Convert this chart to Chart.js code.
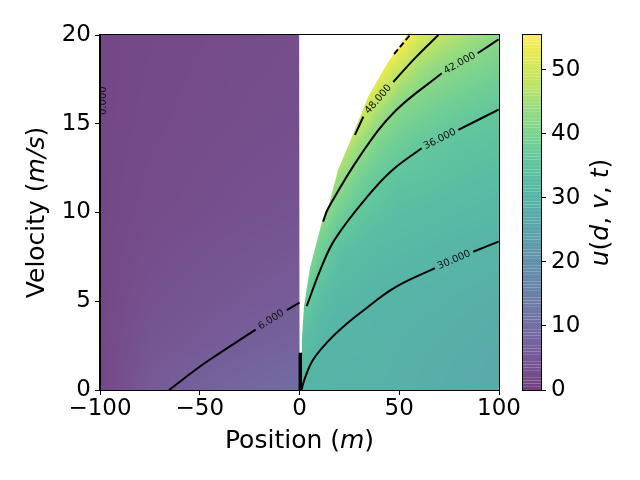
<!DOCTYPE html>
<html><head><meta charset="utf-8">
<script src="https://cdn.jsdelivr.net/npm/chart.js@4.4.0/dist/chart.umd.min.js"></script>
<style>
html,body{margin:0;padding:0;background:#fff;}
#wrap{position:relative;width:640px;height:480px;}
canvas{position:absolute;left:0;top:0;}
</style></head><body>
<div id="wrap"><canvas id="main" width="640" height="480"></canvas><canvas id="cbar" width="640" height="480"></canvas></div>
<script>
// ---------- data ----------
const xTicks = [-100, -50, 0, 50, 100];
const yTicks = [0, 5, 10, 15, 20];
const cbTicks = [0, 10, 20, 30, 40, 50];
const cbRange = [0, 55.4];

// field u(d,v) for d<0 (rows: v, cols: d)
const leftD = [-100, -75, -50, -25, 0];
const leftV = [0, 2.5, 5, 10, 15, 20];
const leftU = [
  [1.5, 5.3, 7.2, 8.6, 10.0],
  [1.5, 4.3, 5.3, 6.6, 7.6],
  [1.5, 3.5, 4.4, 5.2, 5.95],
  [1.5, 2.4, 3.0, 3.5, 3.9],
  [1.5, 2.0, 2.4, 2.8, 3.1],
  [1.5, 1.8, 2.1, 2.4, 2.7]
];
// field u(d,v) for d>=0 (rows: v, cols: d)
const rightD = [0, 5, 10, 20, 30, 40, 50, 60, 70, 80, 90, 100];
const rightV = [0, 2, 4, 6, 8, 10, 12, 14, 16, 18, 20];
const rightU = [
  [30.2, 29.85, 29.8, 29.6, 29.4, 29.2, 28.8, 28.4, 28.0, 27.6, 27.3, 27.0],
  [32.6, 31.5, 29.95, 29.75, 29.7, 29.4, 29.0, 28.7, 28.3, 27.9, 27.6, 27.2],
  [35.2, 34.5, 32.0, 30.3, 29.95, 29.6, 29.4, 29.2, 28.9, 28.5, 28.2, 27.8],
  [37.8, 38.0, 35.0, 32.0, 31.3, 30.4, 30.1, 29.8, 29.5, 29.3, 29.1, 28.7],
  [40.3, 42.5, 39.0, 34.2, 33.2, 32.2, 31.6, 31.2, 30.6, 30.4, 30.0, 29.8],
  [42.8, 47.0, 44.0, 38.6, 35.6, 34.4, 33.2, 32.9, 32.4, 32.0, 31.6, 31.2],
  [45.3, 51.0, 50.0, 44.0, 39.2, 36.6, 35.0, 34.8, 34.2, 33.6, 33.2, 32.8],
  [47.9, 55.0, 56.0, 50.0, 45.0, 40.3, 38.0, 36.6, 35.9, 35.1, 34.8, 34.5],
  [50.4, 59.0, 62.0, 57.0, 52.0, 46.2, 41.7, 40.2, 38.8, 37.8, 36.8, 36.2],
  [53.0, 63.0, 68.0, 64.0, 60.0, 54.0, 48.5, 44.5, 42.4, 41.2, 40.2, 39.0],
  [55.5, 67.0, 74.0, 72.0, 68.0, 62.0, 57.0, 51.0, 48.0, 46.0, 44.0, 42.1]
];
// undefined (white) region edge
const whiteEdge = [[0,0],[1.0,0],[1.1,1.5],[1.25,2.8],[2.25,4.7],[5.3,6.9],[11.3,9.5],[14.3,10.25],[19.3,12.4],[26.8,14.4],[34.3,16.5],[43.9,18.4],[53.9,20]];
// crowded contours at the jump d = 0
const jumpBar = [[0.4,0],[0.4,2.1]];
// contour lines (split where the inline label sits)
const c6a  = [[-65.4,0],[-47.4,1.52],[-22.0,3.4]];
const c6b  = [[-6.4,4.5],[0,4.92]];
const c30a = [[1.0,0],[2.5,0.6],[6.5,1.65],[14.4,2.75],[22.8,3.65],[31.2,4.41],[47.9,5.78],[67.9,6.87]];
const c30b = [[87.1,7.79],[99.8,8.36]];
const c36a = [[3.6,4.73],[11.1,6.95],[17.8,8.5],[33.7,10.85],[46.2,12.35],[61.2,13.62]];
const c36b = [[79.6,14.65],[99.8,15.8]];
const c42a = [[11.8,9.48],[14.4,10.24],[31.2,13.33],[47.9,15.7],[71.3,17.84]];
const c42b = [[89.3,18.97],[99.8,19.75]];
const c48a = [[27.8,14.37],[32,15.4]];
const c48b = [[47,17.35],[57.9,18.7],[69.6,20]];
const c54  = [[47.4,18.93],[55.4,20]];
const contourLabels = [
  ['6.000', c6a, c6b], ['30.000', c30a, c30b], ['36.000', c36a, c36b],
  ['42.000', c42a, c42b], ['48.000', c48a, c48b]
];
const edgeLabel = ['0.000', [-98.5, 16.3]];

// ---------- helpers ----------
const VIR = [[68,1,84],[71,19,101],[72,36,117],[70,51,127],[65,68,135],[59,82,139],[53,95,141],[48,106,142],[42,120,142],[37,132,142],[33,145,140],[31,158,137],[34,168,132],[47,180,124],[68,191,112],[94,201,98],[122,209,81],[162,218,55],[189,223,38],[223,227,24],[253,231,37]];
const ALPHA = 0.75;
function colorFor(u) {
  let t = (u - cbRange[0]) / (cbRange[1] - cbRange[0]);
  t = Math.max(0, Math.min(1, t));
  const f = t * (VIR.length - 1), i = Math.min(VIR.length - 2, Math.floor(f)), r = f - i;
  const c = [0,1,2].map(k => VIR[i][k] + (VIR[i+1][k] - VIR[i][k]) * r);
  return c.map(x => Math.round(x * ALPHA + 255 * (1 - ALPHA)));
}
function seek(arr, x) {
  let i = 0;
  while (i < arr.length - 2 && x > arr[i+1]) i++;
  const t = Math.max(0, Math.min(1, (x - arr[i]) / (arr[i+1] - arr[i])));
  return [i, t];
}
function bilinear(D, V, U, d, v) {
  const [i, s] = seek(D, d), [j, t] = seek(V, v);
  const a = U[j][i] * (1 - s) + U[j][i+1] * s;
  const b = U[j+1][i] * (1 - s) + U[j+1][i+1] * s;
  return a * (1 - t) + b * t;
}
function pts(a) { return a.map(p => ({x: p[0], y: p[1]})); }
function drawMixed(ctx, parts, cx, cy, rot, size) {
  ctx.save(); ctx.translate(cx, cy); ctx.rotate(rot);
  const fnt = it => (it ? 'italic ' : '') + size + 'px "DejaVu Sans"';
  let total = 0;
  parts.forEach(p => { ctx.font = fnt(p[1]); total += ctx.measureText(p[0]).width; });
  let x = -total / 2;
  ctx.textBaseline = 'middle'; ctx.textAlign = 'left'; ctx.fillStyle = '#000';
  parts.forEach(p => { ctx.font = fnt(p[1]); ctx.fillText(p[0], x, 0); x += ctx.measureText(p[0]).width; });
  ctx.restore();
}
const fmt = v => (v < 0 ? '\u2212' + Math.abs(v) : String(v));
Chart.defaults.font.family = '"DejaVu Sans"';
Chart.defaults.color = '#000';

// ---------- main chart ----------
const heatPlugin = {
  id: 'heat',
  beforeDraw(chart) {
    const {ctx, chartArea: ca, scales: {x, y}} = chart;
    const L = Math.round(ca.left), T = Math.round(ca.top);
    const W = Math.round(ca.right) - L, H = Math.round(ca.bottom) - T;
    const off = document.createElement('canvas'); off.width = W; off.height = H;
    const octx = off.getContext('2d'); const img = octx.createImageData(W, H);
    for (let py = 0; py < H; py++) {
      const v = y.getValueForPixel(T + py + 0.5);
      for (let px = 0; px < W; px++) {
        const d = x.getValueForPixel(L + px + 0.5);
        const u = d < 0 ? bilinear(leftD, leftV, leftU, d, v) : bilinear(rightD, rightV, rightU, d, v);
        const c = colorFor(u); const k = (py * W + px) * 4;
        img.data[k] = c[0]; img.data[k+1] = c[1]; img.data[k+2] = c[2]; img.data[k+3] = 255;
      }
    }
    octx.putImageData(img, 0, 0);
    ctx.drawImage(off, L, T);
  },
  afterDatasetsDraw(chart) {
    const {ctx, chartArea: ca, scales: {x, y}} = chart;
    ctx.save();
    ctx.fillStyle = '#111'; ctx.font = '10px "DejaVu Sans"';
    ctx.textAlign = 'center'; ctx.textBaseline = 'middle';
    contourLabels.forEach(([txt, s1, s2]) => {
      const a = s1[s1.length - 1], b = s2[0];
      const ax = x.getPixelForValue(a[0]), ay = y.getPixelForValue(a[1]);
      const bx = x.getPixelForValue(b[0]), by = y.getPixelForValue(b[1]);
      ctx.save(); ctx.translate((ax + bx) / 2, (ay + by) / 2);
      ctx.rotate(Math.atan2(by - ay, bx - ax));
      ctx.fillText(txt, 0, 0); ctx.restore();
    });
    ctx.beginPath(); ctx.rect(ca.left, ca.top, ca.right - ca.left, ca.bottom - ca.top); ctx.clip();
    ctx.translate(x.getPixelForValue(edgeLabel[1][0]), y.getPixelForValue(edgeLabel[1][1]));
    ctx.rotate(-Math.PI / 2);
    ctx.fillText(edgeLabel[0], 0, 0);
    ctx.restore();
  },
  afterDraw(chart) {
    const {ctx, chartArea: ca} = chart;
    ctx.save(); ctx.strokeStyle = '#000'; ctx.lineWidth = 1;
    ctx.strokeRect(Math.round(ca.left) - 0.5, Math.round(ca.top) - 0.5, Math.round(ca.right - ca.left) + 1, Math.round(ca.bottom - ca.top) + 1);
    ctx.restore();
    drawMixed(ctx, [['Position (', false], ['m', true], [')', false]], (ca.left + ca.right) / 2, 441, 0, 25);
    drawMixed(ctx, [['Velocity (', false], ['m/s', true], [')', false]], 37, (ca.top + ca.bottom) / 2, -Math.PI / 2, 25);
  }
};

const lineDS = (a, extra) => Object.assign({
  data: pts(a), borderColor: '#000', borderWidth: 2, pointRadius: 0,
  fill: false, tension: 0.4, borderCapStyle: 'butt', order: 0
}, extra || {});

new Chart(document.getElementById('main'), {
  type: 'line',
  data: {
    datasets: [
      lineDS(jumpBar, {borderWidth: 3.5, tension: 0}),
      lineDS(c6a), lineDS(c6b), lineDS(c30a), lineDS(c30b), lineDS(c36a), lineDS(c36b),
      lineDS(c42a), lineDS(c42b), lineDS(c48a), lineDS(c48b), lineDS(c54, {borderDash: [6, 3]}),
      {data: pts(whiteEdge), borderWidth: 0, borderColor: 'rgba(0,0,0,0)', backgroundColor: '#ffffff', pointRadius: 0, fill: 'end', tension: 0, order: 10}
    ]
  },
  options: {
    responsive: false, animation: false, devicePixelRatio: 1,
    layout: {padding: {left: 0, right: 141, top: 35, bottom: 0}},
    plugins: {legend: {display: false}, tooltip: {enabled: false}, filler: {drawTime: 'beforeDatasetsDraw'}},
    scales: {
      x: {
        type: 'linear', min: -100, max: 100,
        afterBuildTicks: s => { s.ticks = xTicks.map(v => ({value: v})); },
        afterFit: s => { s.height = 90; },
        ticks: {font: {size: 23}, color: '#000', padding: 0, autoSkip: false, maxRotation: 0, callback: fmt},
        grid: {drawOnChartArea: false, drawTicks: true, tickLength: 5, color: '#000'},
        border: {display: true, color: '#000', width: 1}
      },
      y: {
        type: 'linear', min: 0, max: 20,
        afterBuildTicks: s => { s.ticks = yTicks.map(v => ({value: v})); },
        afterFit: s => { s.width = 100; },
        ticks: {font: {size: 23}, color: '#000', padding: 4, autoSkip: false, callback: fmt},
        grid: {drawOnChartArea: false, drawTicks: true, tickLength: 5, color: '#000'},
        border: {display: true, color: '#000', width: 1}
      }
    }
  },
  plugins: [heatPlugin]
});

// ---------- colorbar ----------
const cbPlugin = {
  id: 'cb',
  beforeDraw(chart) {
    const {ctx, chartArea: ca, scales: {y}} = chart;
    const n = 111, step = (cbRange[1] - cbRange[0]) / n;
    for (let k = 0; k < n; k++) {
      const lo = cbRange[0] + k * step, hi = lo + step;
      const c = colorFor((lo + hi) / 2);
      const y0 = y.getPixelForValue(hi), y1 = y.getPixelForValue(lo);
      ctx.fillStyle = 'rgb(' + c.join(',') + ')';
      ctx.fillRect(ca.left, y0, ca.right - ca.left, y1 - y0);
    }
  },
  afterDraw(chart) {
    const {ctx, chartArea: ca} = chart;
    ctx.save(); ctx.strokeStyle = '#000'; ctx.lineWidth = 1;
    ctx.strokeRect(Math.round(ca.left) - 0.5, Math.round(ca.top) - 0.5, Math.round(ca.right - ca.left) + 1, Math.round(ca.bottom - ca.top) + 1);
    ctx.restore();
    drawMixed(ctx, [['u', true], ['(', false], ['d', true], [', ', false], ['v', true], [', ', false], ['t', true], [')', false]], 601, (ca.top + ca.bottom) / 2, -Math.PI / 2, 25);
  }
};
new Chart(document.getElementById('cbar'), {
  type: 'scatter',
  data: {datasets: []},
  options: {
    responsive: false, animation: false, devicePixelRatio: 1,
    layout: {padding: {left: 523, right: 0, top: 35, bottom: 90}},
    plugins: {legend: {display: false}, tooltip: {enabled: false}},
    scales: {
      x: {display: false, min: 0, max: 1},
      y: {
        position: 'right', min: cbRange[0], max: cbRange[1],
        afterBuildTicks: s => { s.ticks = cbTicks.map(v => ({value: v})); },
        afterFit: s => { s.width = 99; },
        ticks: {font: {size: 23}, color: '#000', padding: 5, autoSkip: false},
        grid: {drawOnChartArea: false, drawTicks: true, tickLength: 5, color: '#000'},
        border: {display: true, color: '#000', width: 1}
      }
    }
  },
  plugins: [cbPlugin]
});
</script>
</body></html>
